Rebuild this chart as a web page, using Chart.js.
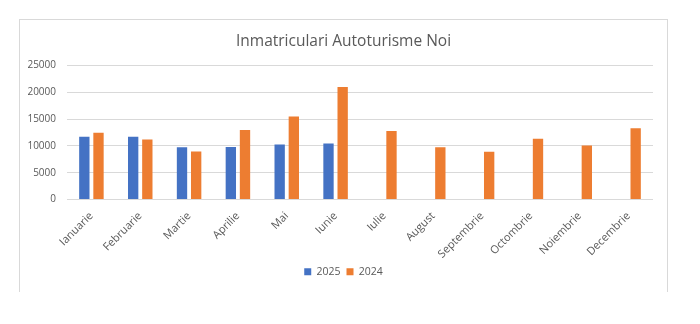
<!DOCTYPE html>
<html>
<head>
<meta charset="utf-8">
<script src="https://cdn.jsdelivr.net/npm/chart.js@4.4.1/dist/chart.umd.min.js"></script>
<style>
  html, body { margin: 0; padding: 0; background: #ffffff; width: 700px; height: 324px; overflow: hidden; }
  #frame { position: absolute; left: 19px; top: 19px; width: 647px; height: 272px;
           border: 1px solid #d9d9d9; border-bottom: none; }
  #wrap { position: absolute; left: 20px; top: 20px; width: 647px; height: 271px; }
</style>
</head>
<body>
<div id="frame"></div>
<div id="wrap"><canvas id="c" width="647" height="271"></canvas></div>
<script>
const chartTitle = "Inmatriculari Autoturisme Noi";
const months = ["Ianuarie", "Februarie", "Martie", "Aprilie", "Mai", "Iunie", "Iulie", "August", "Septembrie", "Octombrie", "Noiembrie", "Decembrie"];
const series2025 = [11700, 11700, 9770, 9780, 10270, 10450, null, null, null, null, null, null];
const series2024 = [12450, 11200, 8950, 12970, 15470, 20980, 12780, 9770, 8890, 11330, 10080, 13270];
const yTicks = [0, 5000, 10000, 15000, 20000, 25000];

const FONT = "'Open Sans', 'Noto Sans', sans-serif";
const TXT = "#595959";

new Chart(document.getElementById("c"), {
  type: "bar",
  data: {
    labels: months,
    datasets: [
      { label: "2025", data: series2025, backgroundColor: "#4472C4",
        categoryPercentage: 0.58, barPercentage: 0.73 },
      { label: "2024", data: series2024, backgroundColor: "#ED7D31",
        categoryPercentage: 0.58, barPercentage: 0.73 }
    ]
  },
  options: {
    responsive: false,
    animation: false,
    devicePixelRatio: 1,
    layout: { padding: { left: 0, right: 0, top: 0, bottom: 4 } },
    plugins: {
      title: {
        display: true, text: chartTitle, color: TXT,
        font: { family: FONT, size: 15.5, weight: "normal" },
        padding: { top: 12.3, bottom: 14.6 }
      },
      legend: {
        position: "bottom",
        labels: {
          color: TXT, boxWidth: 7, boxHeight: 7,
          font: { family: FONT, size: 10.5 }, padding: 6
        }
      },
      tooltip: { enabled: false }
    },
    scales: {
      x: {
        grid: { display: false },
        border: { display: false },
        ticks: {
          color: TXT, font: { family: FONT, size: 11 },
          minRotation: 45, maxRotation: 45, padding: 2
        },
        afterFit(s) { s.height = 61; }
      },
      y: {
        min: 0, max: 25000,
        afterBuildTicks(s) { s.ticks = yTicks.map(v => ({ value: v })); },
        grid: { color: "#d9d9d9", drawTicks: false },
        border: { display: false },
        ticks: { color: TXT, font: { family: FONT, size: 10 }, padding: 11,
                 callback: v => String(v) },
        afterFit(s) { s.width = 47; }
      },
      yRight: {
        position: "right",
        display: true,
        grid: { display: false },
        border: { display: false },
        ticks: { display: false },
        afterFit(s) { s.width = 14; }
      }
    }
  }
});
</script>
</body>
</html>
